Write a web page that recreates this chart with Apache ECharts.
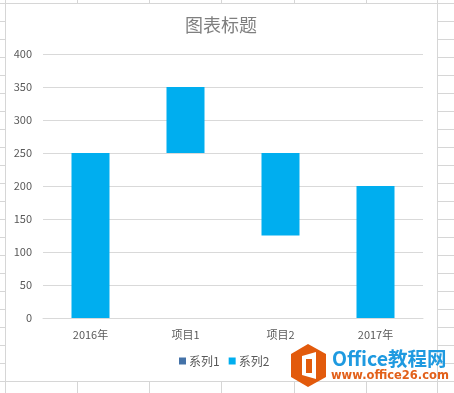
<!DOCTYPE html>
<html>
<head>
<meta charset="utf-8">
<style>
html, body { margin: 0; padding: 0; background: #fff; }
#chart { width: 454px; height: 393px; }
</style>
<script src="https://cdn.jsdelivr.net/npm/echarts@6/dist/echarts.min.js"></script>
</head>
<body>
<div id="chart"></div>
<script>
const categories = ['2016年', '项目1', '项目2', '2017年'];
const offsetValues = [0, 250, 125, 0];
const visibleValues = [250, 100, 125, 200];
const sheetColumns = [77, 149, 221, 294, 366];
const sheetRows = [21, 39, 57, 75, 93, 111, 129, 147, 165, 183, 201, 219, 237, 255, 273, 291, 309, 327, 345, 363];

const font = '"Noto Sans CJK SC", sans-serif';
const sheetLine = { stroke: '#d6d6d6', lineWidth: 1 };

// spreadsheet cells showing around the chart
const sheet = [];
const addLine = (x1, y1, x2, y2) => sheet.push({
    type: 'line', silent: true, z: -1,
    shape: { x1, y1, x2, y2 }, style: sheetLine
});
addLine(0, 3.5, 454, 3.5);
addLine(0, 381.5, 454, 381.5);
addLine(5.5, 0, 5.5, 393);
addLine(437.5, 0, 437.5, 393);
sheetColumns.forEach(x => {
    addLine(x + 0.5, 0, x + 0.5, 3);
    addLine(x + 0.5, 382, x + 0.5, 393);
});
sheetRows.forEach(y => {
    addLine(0, y + 0.5, 5, y + 0.5);
    addLine(438, y + 0.5, 454, y + 0.5);
});

// watermark in the bottom right corner
const watermark = [
    {
        type: 'polygon', silent: true, z: 10,
        shape: { points: [[308, 344], [326, 354], [326, 377], [308, 387], [291, 377], [291, 354]] },
        style: { fill: '#e25a0c' }
    },
    {
        type: 'polygon', silent: true, z: 11,
        shape: { points: [[302, 356], [316, 352], [316, 379], [302, 375]] },
        style: { fill: '#fff' }
    },
    {
        type: 'rect', silent: true, z: 12,
        shape: { x: 306, y: 359, width: 6, height: 14 },
        style: { fill: '#e25a0c' }
    },
    {
        type: 'text', silent: true, z: 11, x: 332, y: 349,
        style: { text: 'Office教程网', fill: '#1f9ae0', font: 'bold 19.5px ' + font }
    },
    {
        type: 'text', silent: true, z: 11, x: 331, y: 370,
        style: { text: 'www.office26.com', fill: '#e2601a', font: 'bold 11.5px "DejaVu Sans", sans-serif' }
    }
];

const chart = echarts.init(document.getElementById('chart'), null, { renderer: 'canvas' });
chart.setOption({
    animation: false,
    backgroundColor: '#fff',
    title: {
        text: '图表标题',
        left: 180,
        top: 11,
        textStyle: { color: '#7f7f7f', fontSize: 18, fontWeight: 'normal', fontFamily: font }
    },
    legend: {
        left: 174,
        top: 350,
        itemWidth: 7,
        itemHeight: 7,
        itemGap: 9,
        icon: 'rect',
        textStyle: { color: '#595959', fontSize: 12, fontFamily: font, padding: [0, 0, 0, -2] },
        data: [
            { name: '系列1', itemStyle: { color: '#4472a8' } },
            { name: '系列2', itemStyle: { color: '#00aeef' } }
        ]
    },
    grid: { left: 43, right: 31, top: 54, bottom: 75 },
    xAxis: {
        type: 'category',
        data: categories,
        axisTick: { show: false },
        axisLine: { lineStyle: { color: '#d9d9d9' } },
        axisLabel: { color: '#595959', fontSize: 11, fontFamily: font, margin: 11 }
    },
    yAxis: {
        type: 'value',
        min: 0,
        max: 400,
        interval: 50,
        axisLine: { show: false },
        axisTick: { show: false },
        splitLine: { lineStyle: { color: '#d9d9d9' } },
        axisLabel: { color: '#595959', fontSize: 11, fontFamily: font, margin: 11 }
    },
    series: [
        {
            name: '系列1',
            type: 'bar',
            stack: 'total',
            barWidth: 38,
            data: offsetValues,
            itemStyle: { color: 'transparent' }
        },
        {
            name: '系列2',
            type: 'bar',
            stack: 'total',
            barWidth: 38,
            data: visibleValues,
            itemStyle: { color: '#00aeef' }
        }
    ],
    graphic: sheet.concat(watermark)
});
</script>
</body>
</html>
